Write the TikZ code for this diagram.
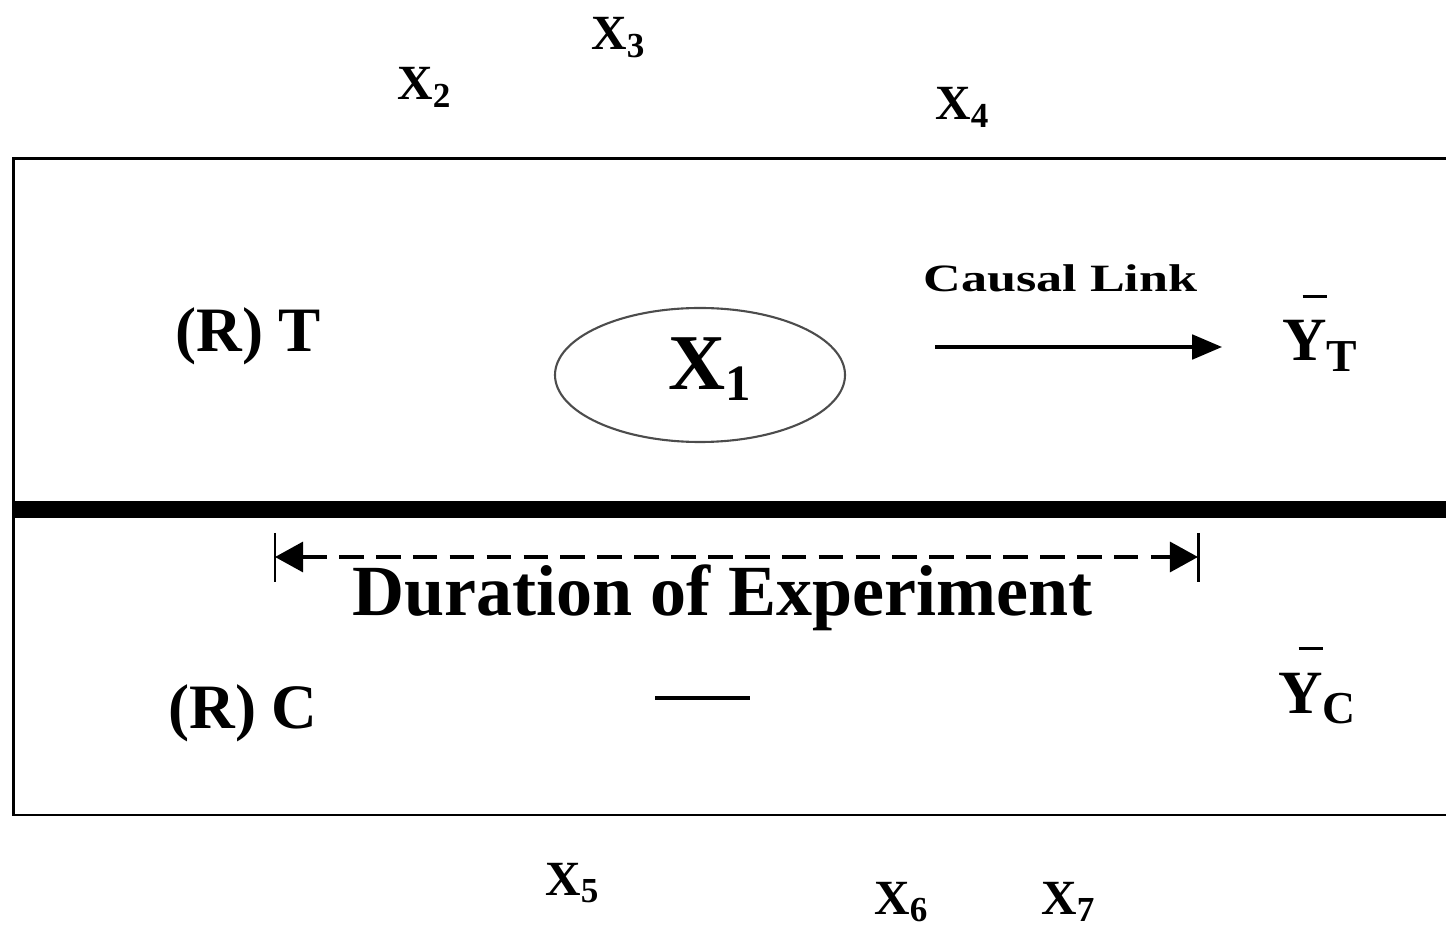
\documentclass[tikz,border=0pt]{standalone}
\usepackage{fontspec}
\setmainfont{Liberation Serif}
\newfontfamily\widefont[FakeStretch=1.35]{Liberation Serif}
\usetikzlibrary{arrows.meta,positioning}

\newcommand{\xsub}[1]{X\raisebox{-4pt}{\fontsize{20}{22}\selectfont #1}}
\newcommand{\ybar}[1]{\makebox[0pt][l]{\hspace{0.33em}\rule[1.03em]{0.4em}{0.05em}}Y\raisebox{-5.7pt}{\fontsize{26}{28}\selectfont #1}}

\begin{document}
\begin{tikzpicture}[
  x=0.02cm, y=-0.02cm,
  frame/.style={draw=black, line width=1.7pt},
  divider/.style={draw=black, line width=9.6pt},
  treatring/.style={draw=black!70, line width=1.2pt},
  link/.style={draw=black, line width=1.8pt, -{Triangle[length=17pt, width=14pt]}},
  span/.style={draw=black, line width=2.2pt, dash pattern=on 14pt off 7pt,
    {Triangle[length=16pt, width=17pt]}-{Triangle[length=16pt, width=17pt]}},
  spanbar/.style={draw=black, line width=1.7pt},
  nulltreat/.style={draw=black, line width=1.9pt},
  varlabel/.style={inner sep=0pt, anchor=base west, font=\bfseries\fontsize{28}{30}\selectfont},
  grouplabel/.style={inner sep=0pt, anchor=base west, font=\bfseries\fontsize{36}{40}\selectfont},
  outlabel/.style={inner sep=0pt, anchor=base west, font=\bfseries\fontsize{35}{38}\selectfont},
  linklabel/.style={inner sep=0pt, anchor=base west, font=\widefont\bfseries\fontsize{22}{24}\selectfont},
  spanlabel/.style={inner sep=0pt, anchor=base west, font=\bfseries\fontsize{41}{44}\selectfont}
]
  \useasboundingbox (0,0) rectangle (1446,928);
  % outer frame and group divider
  \draw[frame] (1446,158.5) -- (13.5,158.5) -- (13.5,815) -- (1446,815);
  \draw[divider] (12,509.5) -- (1446,509.5);
  % extraneous variables
  \node[varlabel] (x2) at (397,100) {\xsub{2}};
  \node[varlabel] (x3) at (591,50) {\xsub{3}};
  \node[varlabel] (x4) at (935,120) {\xsub{4}};
  \node[varlabel] (x5) at (545,895) {\xsub{5}};
  \node[varlabel] (x6) at (874,914) {\xsub{6}};
  \node[varlabel] (x7) at (1041,914) {\xsub{7}};
  % treatment group
  \node[grouplabel] (grpT) at (175,352) {(R) T};
  \draw[treatring] (700,375) ellipse [x radius=145, y radius=67];
  \node[inner sep=0pt, anchor=base west, font=\bfseries\fontsize{45}{48}\selectfont] (x1) at (668,390)
    {X\raisebox{-5.7pt}{\fontsize{29}{31}\selectfont 1}};
  \node[linklabel] (causal) at (923,292) {Causal Link};
  \coordinate (linkstart) at (935,347);
  \coordinate (linkend) at (1222,347);
  \draw[link] (linkstart) -- (linkend);
  \node[outlabel] (ylT) at (1282,361) {\ybar{T}};
  % duration
  \coordinate (durL) at (275,557);
  \coordinate (durR) at (1198,557);
  \draw[spanbar] (275,533) -- (275,582);
  \draw[spanbar] (1198,533) -- (1198,582);
  \draw[span] (durL) -- (durR);
  \node[spanlabel] (duration) at (352,615) {Duration of Experiment};
  % control group
  \node[grouplabel] (grpC) at (168,728) {(R) C};
  \coordinate (nullL) at (655,698);
  \coordinate (nullR) at (750,698);
  \draw[nulltreat] (nullL) -- (nullR);
  \node[outlabel] (ylC) at (1278,713) {\ybar{C}};
\end{tikzpicture}
\end{document}
